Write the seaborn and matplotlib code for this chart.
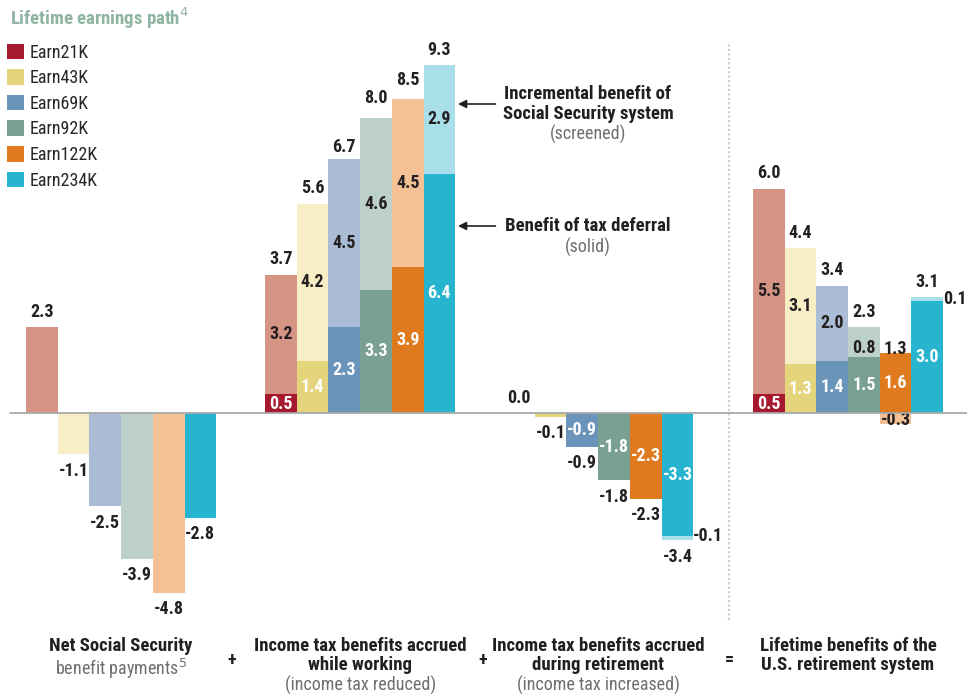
import numpy as np
import pandas as pd
import matplotlib.pyplot as plt
from matplotlib.patches import Patch
import seaborn as sns

sns.set_theme(style='white')
plt.rcParams['font.family'] = ['Roboto Condensed', 'Liberation Sans Narrow', 'Roboto', 'DejaVu Sans']

# data
earners = ['Earn21K', 'Earn43K', 'Earn69K', 'Earn92K', 'Earn122K', 'Earn234K']
net_ss = [2.3, -1.1, -2.5, -3.9, -4.8, -2.8]
net_ss_solid = [False, False, False, False, False, True]
work_solid = [0.5, 1.4, 2.3, 3.3, 3.9, 6.4]
work_screen = [3.2, 4.2, 4.5, 4.6, 4.5, 2.9]
work_total = [3.7, 5.6, 6.7, 8.0, 8.5, 9.3]
ret_solid = [0.0, -0.1, -0.9, -1.8, -2.3, -3.3]
ret_screen = [0.0, 0.0, 0.0, 0.0, 0.0, -0.1]
ret_total = [0.0, -0.1, -0.9, -1.8, -2.3, -3.4]
life_solid = [0.5, 1.3, 1.4, 1.5, 1.6, 3.0]
life_screen = [5.5, 3.1, 2.0, 0.8, -0.3, 0.1]
life_total = [6.0, 4.4, 3.4, 2.3, 1.3, 3.1]

solid_colors = ['#a6192e', '#e4d57c', '#6b94bb', '#7aa091', '#e07a1f', '#27b4cf']
screen_colors = ['#d69485', '#f7eec6', '#abbdd6', '#bdd0c9', '#f4c195', '#a9dfe9']

group_start = [0, 7.54, 15.05, 22.93]
DARK = '#231f20'
GRAY = '#6d6e71'

# build two drawing layers: back (screened / full stack) and front (solid)
rows = []
for i in range(6):
    # group 1: single bars
    rows.append(dict(pos=group_start[0] + i, layer='back', value=net_ss[i],
                     color=solid_colors[i] if net_ss_solid[i] else screen_colors[i]))
    rows.append(dict(pos=group_start[0] + i, layer='front', value=0.0, color=solid_colors[i]))
    for g, (s, sc) in enumerate([(work_solid, work_screen), (ret_solid, ret_screen),
                                 (life_solid, life_screen)], start=1):
        back = s[i] + sc[i] if s[i] * sc[i] >= 0 else sc[i]
        rows.append(dict(pos=group_start[g] + i, layer='back', value=back, color=screen_colors[i]))
        rows.append(dict(pos=group_start[g] + i, layer='front', value=s[i], color=solid_colors[i]))
df = pd.DataFrame(rows)
df['bar_id'] = df['layer'] + df['pos'].round(2).astype(str)

fig = plt.figure(figsize=(9.67, 6.94), dpi=100)
ax = fig.add_axes([0, 0, 1, 1])

for layer in ['back', 'front']:
    d = df[df['layer'] == layer]
    pal = dict(zip(d['bar_id'], d['color']))
    sns.barplot(data=d, x='pos', y='value', hue='bar_id', palette=pal, native_scale=True,
                dodge=False, width=1, errorbar=None, legend=False, saturation=1,
                linewidth=0, ax=ax)

px_x, px_y = 31.7, 37.4
ax.set_xlim(-0.5 - 26 / px_x, -0.5 + 941 / px_x)
ax.set_ylim(-281 / px_y, 413 / px_y)
ax.axis('off')
ax.axhline(0, xmin=10 / 967, xmax=1, color='#a7a9ac', lw=1.3, zorder=5)
ax.vlines(-0.5 + 703 / px_x, -207 / px_y, 371 / px_y, color='#cfcfcf', lw=1.6,
          linestyles=(0, (1, 1)))

FS = 13
lab = dict(fontsize=FS, fontweight='bold', ha='center')
up, dn = 0.17, 0.2


def outer(x, v, zero_up=False):
    if v > 0 or (v == 0 and zero_up):
        ax.text(x, v + up, f'{v:.1f}', va='bottom', color=DARK, **lab)
    else:
        ax.text(x, v - dn, f'{v:.1f}', va='top', color=DARK, **lab)


for i in range(6):
    # net social security
    outer(group_start[0] + i, net_ss[i])

    # while working
    x = group_start[1] + i
    outer(x, work_total[i])
    ax.text(x, work_solid[i] / 2, f'{work_solid[i]:.1f}', va='center', color='white', **lab)
    ax.text(x, work_solid[i] + work_screen[i] / 2, f'{work_screen[i]:.1f}', va='center',
            color=DARK, **lab)

    # during retirement
    x = group_start[2] + i
    outer(x, ret_total[i], zero_up=True)
    if ret_solid[i] <= -0.5:
        ax.text(x, ret_solid[i] / 2, f'{ret_solid[i]:.1f}', va='center', color='white', **lab)
    if ret_screen[i] != 0:
        ax.text(x + 0.5, ret_total[i] + 0.1, f'{ret_screen[i]:.1f}', va='center', ha='left',
                color=DARK, fontsize=FS, fontweight='bold')

    # lifetime
    x = group_start[3] + i
    outer(x, life_total[i])
    ax.text(x, life_solid[i] / 2, f'{life_solid[i]:.1f}', va='center', color='white', **lab)
    if abs(life_screen[i]) < 0.3:
        ax.text(x + 0.5, life_total[i] - 0.05, f'{life_screen[i]:.1f}', va='center', ha='left',
                color=DARK, fontsize=FS, fontweight='bold')
    elif life_screen[i] < 0:
        ax.text(x, life_screen[i] / 2 - 0.05, f'{life_screen[i]:.1f}', va='center',
                color=DARK, **lab)
    else:
        ax.text(x, life_solid[i] + life_screen[i] / 2 - (0.15 if life_screen[i] < 1 else 0),
                f'{life_screen[i]:.1f}', va='center', color=DARK, **lab)

# annotations for screened / solid
ax_x = group_start[1] + 5.5
tx = -0.5 + (588 - 26) / px_x
ax.annotate('', xy=(ax_x, (413 - 104) / px_y), xytext=(ax_x + 43 / px_x, (413 - 104) / px_y),
            arrowprops=dict(arrowstyle='-|>', color=DARK, lw=1.2, mutation_scale=12))
ax.annotate('', xy=(ax_x, (413 - 226) / px_y), xytext=(ax_x + 43 / px_x, (413 - 226) / px_y),
            arrowprops=dict(arrowstyle='-|>', color=DARK, lw=1.2, mutation_scale=12))
ax.text(tx, (413 - 104) / px_y, 'Incremental benefit of\nSocial Security system', ha='center',
        va='center', fontsize=13.5, fontweight='bold', color=DARK, linespacing=1.1)
ax.text(tx, (413 - 134) / px_y, '(screened)', ha='center', va='center', fontsize=13, color=GRAY)
ax.text(tx, (413 - 226) / px_y, 'Benefit of tax deferral', ha='center', va='center',
        fontsize=13.5, fontweight='bold', color=DARK)
ax.text(tx, (413 - 247) / px_y, '(solid)', ha='center', va='center', fontsize=13, color=GRAY)

# bottom category labels
centers = [g + 2.5 for g in group_start]
bold_lines = ['Net Social Security', 'Income tax benefits accrued\nwhile working',
              'Income tax benefits accrued\nduring retirement',
              'Lifetime benefits of the\nU.S. retirement system']
sub_lines = ['benefit payments$^5$', '(income tax reduced)', '(income tax increased)', '']
y_top = (413 - 637) / px_y
for c, b, s in zip(centers, bold_lines, sub_lines):
    ax.text(c, y_top, b, ha='center', va='top', fontsize=13.5, fontweight='bold', color=DARK,
            linespacing=1.1)
    nlines = b.count('\n') + 1
    ax.text(c, y_top - (nlines * 19.5) / px_y, s, ha='center', va='top', fontsize=13, color=GRAY)
for px, sym in [(232, '+'), (483, '+'), (729, '=')]:
    ax.text(-0.5 + (px - 26) / px_x, (413 - 660) / px_y, sym, ha='center', va='center',
            fontsize=13, fontweight='bold', color=DARK)

# legend
fig.text(10 / 967, 1 - 18 / 694, 'Lifetime earnings path$^4$', ha='left', va='center',
         fontsize=13.5, fontweight='bold', color='#8fb4a2')
handles = [Patch(facecolor=c, edgecolor='none', label=n) for c, n in zip(solid_colors, earners)]
fig.legend(handles=handles, loc='upper left', bbox_to_anchor=(3 / 967, 1 - 40 / 694),
           frameon=False, fontsize=13, handlelength=0.95, handleheight=0.95, handletextpad=0.35,
           labelspacing=0.42, borderpad=0.2, borderaxespad=0)

fig.savefig('out.png', dpi=100)
